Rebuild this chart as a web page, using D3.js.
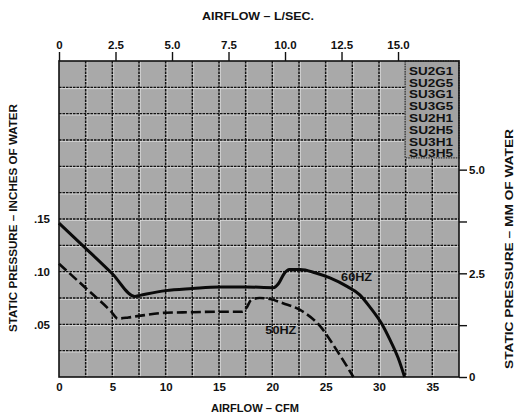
<!DOCTYPE html>
<html><head><meta charset="utf-8">
<script src="https://cdn.jsdelivr.net/npm/d3@7"></script>
<style>body{margin:0;background:#fff}text{font-family:"Liberation Sans",Arial,sans-serif;font-weight:bold;fill:#111}</style>
</head><body><svg id="c" width="517" height="419"></svg>
<script>
// ---- data ----
const cfmTicks = [0, 5, 10, 15, 20, 25, 30, 35];
const lpsTicks = [0, 2.5, 5.0, 7.5, 10.0, 12.5, 15.0];
const inchTicks = [0.05, 0.10, 0.15];
const mmTicks = [0, 1.25, 2.5, 3.75, 5.0];
const mmLabelled = [0, 2.5, 5.0];
const hz60Cfm = [0, 2.5, 5, 7.1, 7.6, 10, 12.5, 15, 17.5, 20.1, 20.6, 21.1, 21.6, 22.6, 24, 25.4, 27, 28.2, 29.1, 30.4, 31.0, 31.8, 32.4];
const hz60In  = [0.146, 0.1222, 0.098, 0.0765, 0.0775, 0.082, 0.084, 0.0855, 0.0855, 0.0848, 0.089, 0.098, 0.102, 0.102, 0.099, 0.094, 0.086, 0.078, 0.067, 0.048, 0.036, 0.018, 0];
const hz50Cfm = [0, 2.5, 4.9, 5.5, 6.5, 7.5, 10, 12.5, 15, 17.2, 17.6, 18.0, 18.8, 19.8, 21, 22.6, 24.5, 26.0, 27.0, 27.6];
const hz50In  = [0.1075, 0.0845, 0.062, 0.0555, 0.0565, 0.058, 0.061, 0.0615, 0.062, 0.062, 0.066, 0.073, 0.075, 0.074, 0.070, 0.0637, 0.048, 0.026, 0.010, 0];
const models = ["SU2G1", "SU2G5", "SU3G1", "SU3G5", "SU2H1", "SU2H5", "SU3H1", "SU3H5"];

// ---- scales ----
const svg = d3.select("#c");
const X0 = 59, X1 = 459, Y0 = 377, Y1 = 61;
const cfmMax = 37.5, inMax = 0.30;
const x = d3.scaleLinear([0, cfmMax], [X0, X1]);
const y = d3.scaleLinear([0, inMax], [Y0, Y1]);
const xL = d3.scaleLinear([0, cfmMax / 2.11888], [X0, X1]);
const yMM = d3.scaleLinear([0, inMax * 25.4], [Y0, Y1]);

// plot background
svg.append("rect").attr("x", X0).attr("y", Y1).attr("width", X1 - X0).attr("height", Y0 - Y1)
  .attr("fill", "#a9a9a9");

// grid
const g = svg.append("g");
const vx = d3.range(2.5, cfmMax, 2.5);
const hy = d3.range(1, 12).map(i => i * 0.025);
g.selectAll(".vl").data(vx).join("line").attr("x1", d => x(d) + 1.3).attr("x2", d => x(d) + 1.3)
  .attr("y1", Y1).attr("y2", Y0).attr("stroke", "#ededed").attr("stroke-width", 0.9).attr("opacity", 0.75);
g.selectAll(".hl").data(hy).join("line").attr("y1", d => y(d) + 1.3).attr("y2", d => y(d) + 1.3)
  .attr("x1", X0).attr("x2", X1).attr("stroke", "#ededed").attr("stroke-width", 0.9).attr("opacity", 0.75);
g.selectAll(".v").data(vx).join("line").attr("x1", d => x(d)).attr("x2", d => x(d))
  .attr("y1", Y1).attr("y2", Y0).attr("stroke", "#111").attr("stroke-width", 1.5).attr("stroke-dasharray", "2.5,1");
g.selectAll(".h").data(hy).join("line").attr("y1", d => y(d)).attr("y2", d => y(d))
  .attr("x1", X0).attr("x2", X1).attr("stroke", "#111").attr("stroke-width", 1.4).attr("stroke-dasharray", "2.5,1");

// legend box
const lx = x(32.45), ly = y(0.208);
svg.append("rect").attr("x", lx).attr("y", Y1).attr("width", X1 - lx).attr("height", ly - Y1)
  .attr("fill", "#a2a2a2").attr("stroke", "#333").attr("stroke-width", 1.2).attr("stroke-dasharray", "1.5,1");
svg.selectAll(".mod").data(models).join("text")
  .attr("x", lx + 4).attr("y", (d, i) => Y1 + 10.7 + i * 11.8)
  .attr("dominant-baseline", "middle").attr("font-size", 11.5)
  .attr("textLength", 44).attr("lengthAdjust", "spacingAndGlyphs").text(d => d);

// border
svg.append("rect").attr("x", X0).attr("y", Y1).attr("width", X1 - X0).attr("height", Y0 - Y1)
  .attr("fill", "none").attr("stroke", "#111").attr("stroke-width", 1.6);

// curves
const line = d3.line().x(d => x(d[0])).y(d => y(d[1])).curve(d3.curveMonotoneX);
const d60 = hz60Cfm.map((c, i) => [c, hz60In[i]]);
const d50 = hz50Cfm.map((c, i) => [c, hz50In[i]]);
svg.append("path").datum(d60).attr("d", line).attr("fill", "none").attr("stroke", "#0a0a0a")
  .attr("stroke-width", 3);
svg.append("path").datum(d50).attr("d", line).attr("fill", "none").attr("stroke", "#0a0a0a")
  .attr("stroke-width", 2.6).attr("stroke-dasharray", "10,4");

svg.append("text").attr("x", x(27.9)).attr("y", y(0.094)).attr("text-anchor", "middle")
  .attr("dominant-baseline", "middle").attr("font-size", 10.5).attr("textLength", 31)
  .attr("lengthAdjust", "spacingAndGlyphs").text("60HZ");
svg.append("text").attr("x", x(20.8)).attr("y", y(0.0437)).attr("text-anchor", "middle")
  .attr("dominant-baseline", "middle").attr("font-size", 10.5).attr("textLength", 31)
  .attr("lengthAdjust", "spacingAndGlyphs").text("50HZ");

// axes
function style(sel) {
  sel.select(".domain").remove();
  sel.selectAll("text").attr("font-size", 11.5).attr("font-family", null).style("font-weight", "bold").attr("fill", "#111");
  sel.selectAll("line").attr("stroke", "#111").attr("stroke-width", 1.4);
}
svg.append("g").attr("transform", `translate(0,${Y1})`)
  .call(d3.axisTop(xL).tickValues(lpsTicks).tickSize(9).tickPadding(3)
    .tickFormat(d => d === 0 ? "0" : d3.format(".1f")(d))).call(style);
svg.append("g").attr("transform", `translate(0,${Y0})`)
  .call(d3.axisBottom(x).tickValues(cfmTicks).tickSize(0).tickPadding(6)).call(style);
svg.append("g").attr("transform", `translate(${X0 - 9},0)`)
  .call(d3.axisLeft(y).tickValues(inchTicks).tickSize(0).tickPadding(0)
    .tickFormat(d => d3.format(".2f")(d).replace(/^0/, ""))).call(style);
svg.append("g").attr("transform", `translate(${X1},0)`)
  .call(d3.axisRight(yMM).tickValues(mmTicks).tickSize(8).tickPadding(2)
    .tickFormat(d => mmLabelled.includes(d) ? (d === 0 ? "0" : d3.format(".1f")(d)) : "")).call(style);

// titles
svg.append("text").attr("x", 258).attr("y", 17).attr("text-anchor", "middle").attr("dominant-baseline", "middle")
  .attr("font-size", 10.5).attr("textLength", 112).attr("lengthAdjust", "spacingAndGlyphs").text("AIRFLOW – L/SEC.");
svg.append("text").attr("x", 255).attr("y", 409).attr("text-anchor", "middle").attr("dominant-baseline", "middle")
  .attr("font-size", 10.5).attr("textLength", 88).attr("lengthAdjust", "spacingAndGlyphs").text("AIRFLOW – CFM");
svg.append("text").attr("transform", "translate(14,218) rotate(-90)").attr("text-anchor", "middle")
  .attr("dominant-baseline", "middle").attr("font-size", 10.5).attr("textLength", 228)
  .attr("lengthAdjust", "spacingAndGlyphs").text("STATIC PRESSURE – INCHES OF WATER");
svg.append("text").attr("transform", "translate(510,249) rotate(-90)").attr("text-anchor", "middle")
  .attr("dominant-baseline", "middle").attr("font-size", 10.5).attr("textLength", 240)
  .attr("lengthAdjust", "spacingAndGlyphs").text("STATIC PRESSURE – MM OF WATER");
</script></body></html>
